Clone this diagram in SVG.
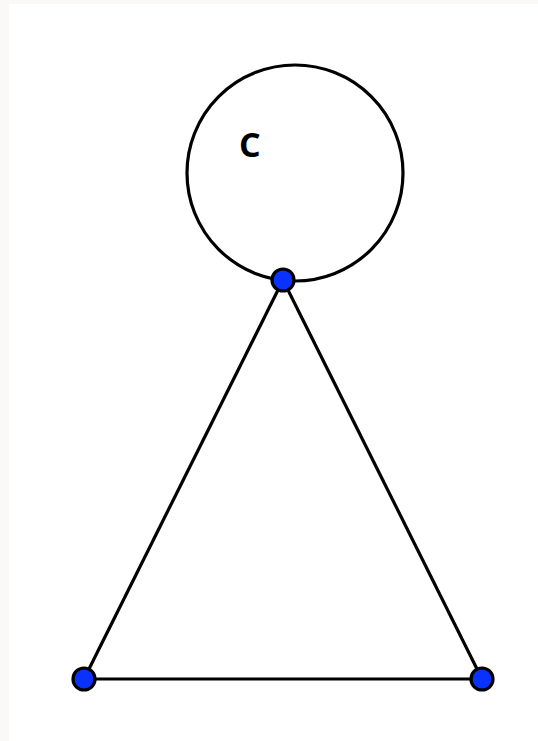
<svg xmlns="http://www.w3.org/2000/svg" width="538" height="741" viewBox="0 0 538 741">
<style>
.edge{stroke:#000;stroke-width:3.2;fill:none}
.pt{fill:#0a32ff;stroke:#000;stroke-width:3.2}
.lbl{font-family:"Open Sans","Noto Sans",sans-serif;font-weight:bold;font-size:34px;fill:#000}
</style>
<rect x="0" y="0" width="538" height="741" fill="#faf9f7"/>
<rect x="9" y="4" width="529" height="737" fill="#fff"/>
<g id="connectors">
<circle class="edge" cx="295" cy="173" r="108"/>
<line class="edge" x1="283" y1="280" x2="84" y2="679"/>
<line class="edge" x1="283" y1="280" x2="482" y2="679"/>
<line class="edge" x1="84" y1="679" x2="482" y2="679"/>
</g>
<g id="label-C"><text class="lbl" x="239" y="157">C</text></g>
<g id="node-top"><circle class="pt" cx="283" cy="280" r="11"/></g>
<g id="node-left"><circle class="pt" cx="84" cy="679" r="11"/></g>
<g id="node-right"><circle class="pt" cx="482" cy="679" r="11"/></g>
</svg>
